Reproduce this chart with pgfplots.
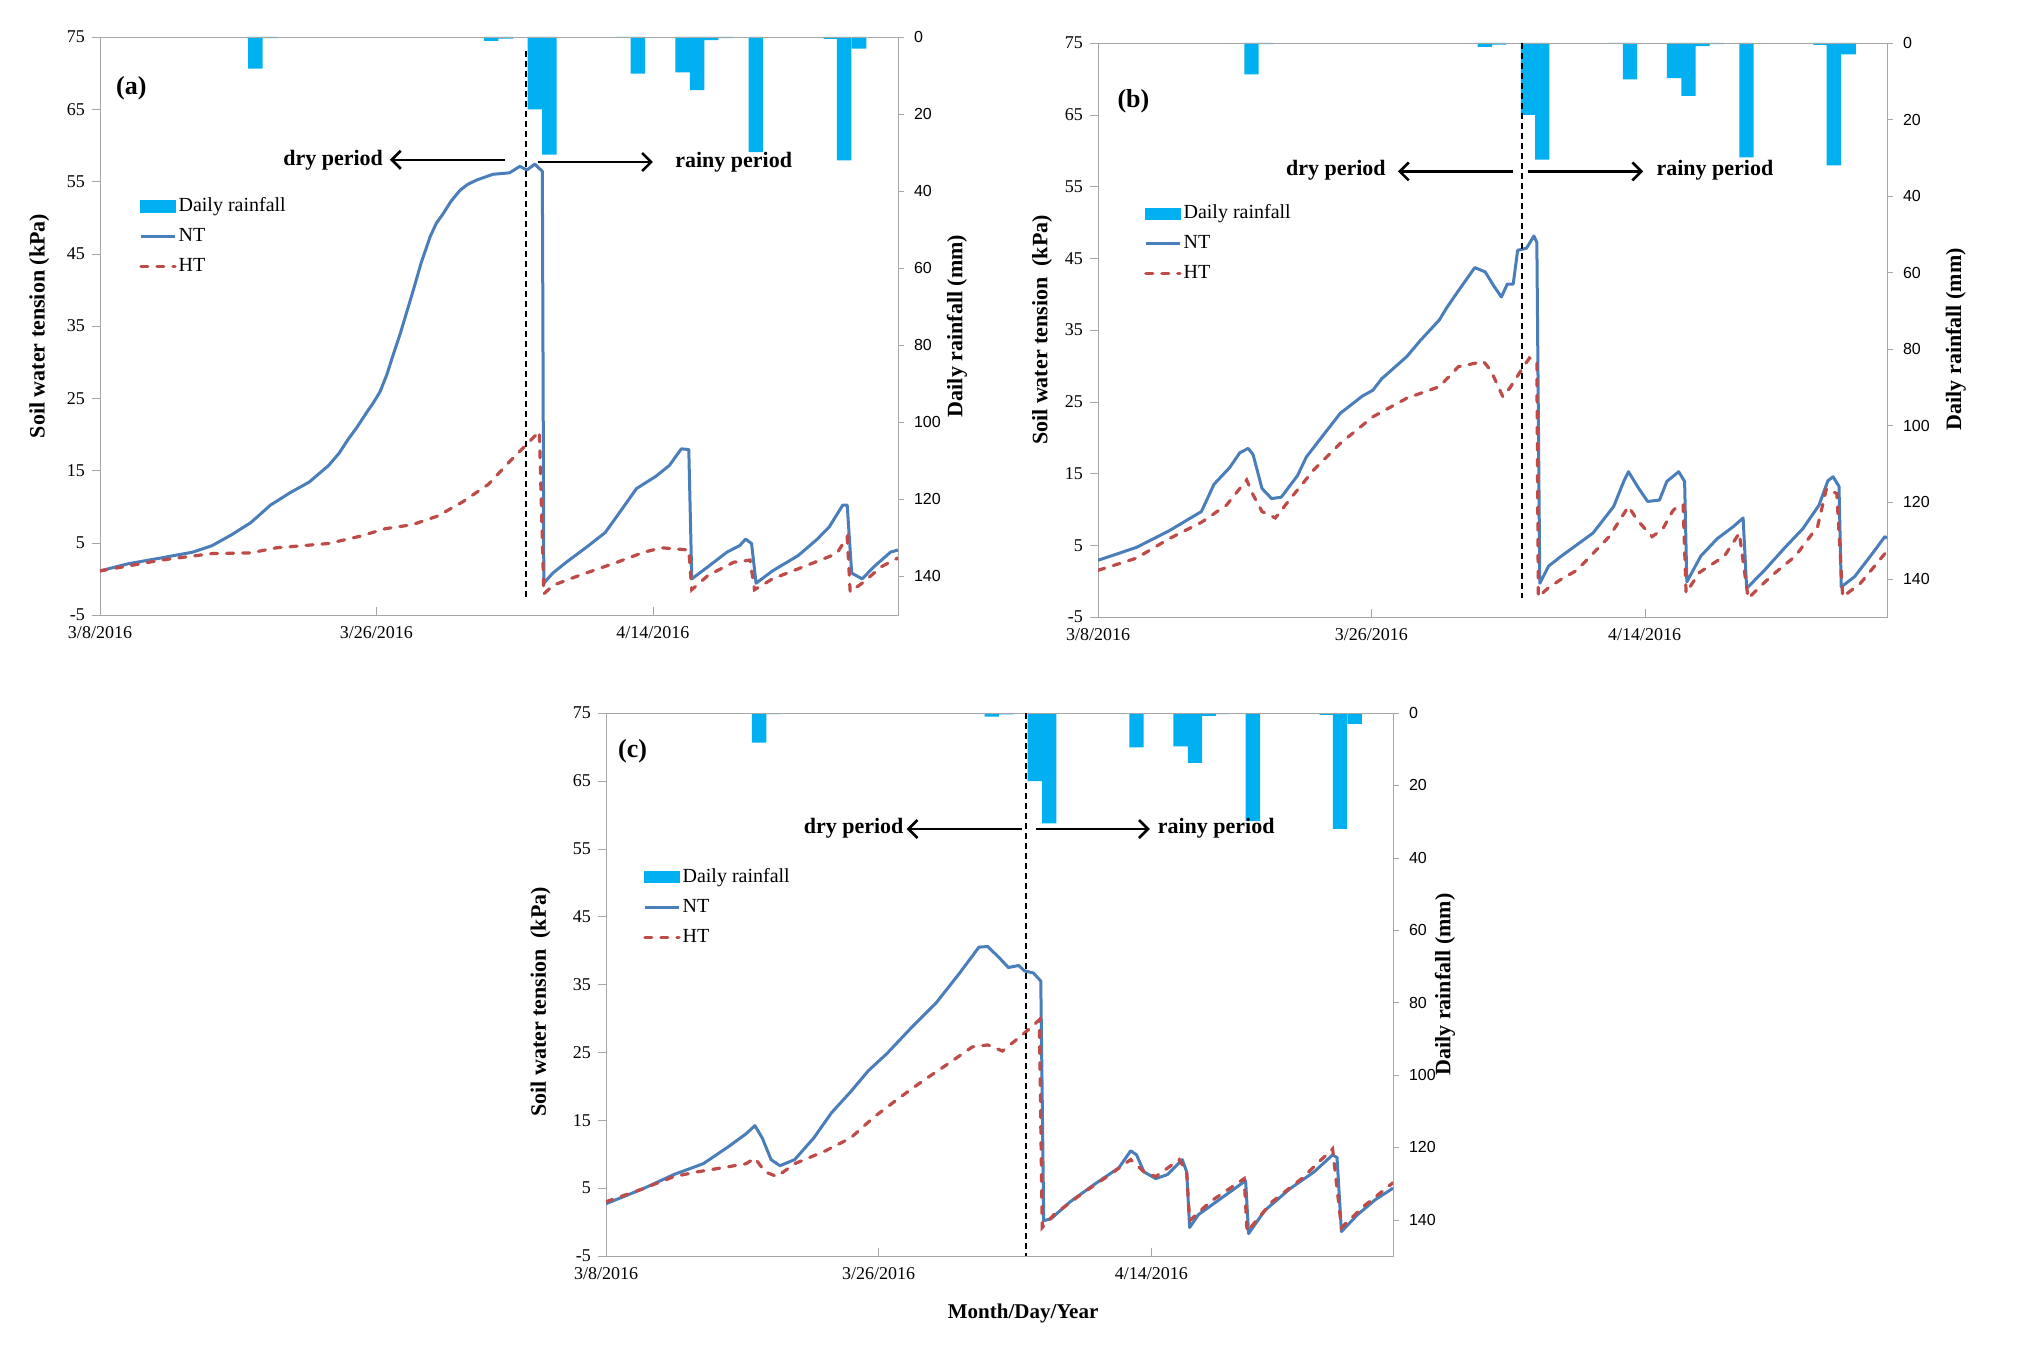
\documentclass[border=0pt]{standalone}
\usepackage{fontspec}
\setmainfont{Liberation Serif}
\newfontfamily\arialf{Liberation Sans}
\usepackage{pgfplots}
\usepackage{pgfplotstable}
\pgfplotsset{compat=1.18}
\usetikzlibrary{arrows.meta}
\definecolor{ntblue}{HTML}{4A7EBB}
\definecolor{htred}{HTML}{BE4B48}
\definecolor{rain}{HTML}{00B0F0}
\definecolor{axgray}{HTML}{A6A6A6}

\pgfplotstableread{
x r
10.39 8.2
11.38 0.3
26.18 1.0
27.16 0.4
29.10 18.8
30.07 30.5
35.05 0.2
36.00 9.5
38.99 9.2
39.96 13.8
40.90 0.8
41.87 0.3
43.89 29.9
48.90 0.5
49.80 32.0
50.80 3.0
}\raintable

\pgfplotstableread{
x y
0 1.1
1.9 2.1
4.1 2.9
6.2 3.7
7.5 4.6
8.8 6.1
10.1 7.8
11.4 10.2
12.7 11.9
14.0 13.4
15.3 15.7
16.0 17.4
16.6 19.3
17.2 21.0
17.8 22.9
18.3 24.4
18.74 25.9
19.2 28.3
19.6 30.9
20.1 34.0
20.97 40.0
21.5 43.8
22.1 47.4
22.5 49.2
22.98 50.6
23.5 52.3
24.1 53.8
24.6 54.6
25.2 55.2
26.3 56.0
27.4 56.2
28.1 57.1
28.56 56.6
29.1 57.4
29.6 56.4
29.7 -0.6
30.3 0.8
31.2 2.3
32.5 4.3
33.8 6.4
34.6 8.7
35.9 12.5
37.2 14.2
38.1 15.7
38.9 18.0
39.4 17.9
39.6 0.0
40.7 1.7
41.95 3.7
42.8 4.6
43.2 5.5
43.6 4.9
43.9 -0.6
45.0 1.1
46.7 3.2
48.0 5.5
48.8 7.2
49.7 10.2
50.0 10.2
50.3 0.8
51.0 0.0
51.8 1.7
52.9 3.7
53.4 4.0
}\ntA

\pgfplotstableread{
x y
0 1.1
4.1 2.6
7.5 3.5
10.1 3.6
11.8 4.3
13.6 4.6
15.3 4.9
17.4 5.9
19.1 6.95
20.9 7.5
22.6 8.7
24.3 10.7
26.0 13.1
27.3 16.0
28.4 18.3
29.4 20.4
29.7 -2.1
30.3 -0.9
32.1 0.5
34.6 2.3
36.4 3.7
37.6 4.3
39.4 4.0
39.6 -1.5
40.7 0.5
42.4 2.3
43.5 2.6
43.8 -1.5
45.0 0.0
47.1 1.7
49.3 3.5
50.0 5.8
50.2 -1.8
51.0 -0.6
52.3 1.7
53.4 2.9
}\htA

\pgfplotstableread{
x y
0 2.9
2.6 4.7
4.8 7.0
7.0 9.7
7.85 13.5
8.9 15.8
9.6 17.9
10.17 18.5
10.5 17.6
11.1 12.9
11.75 11.5
12.4 11.7
13.5 14.7
14.1 17.3
15.3 20.5
16.4 23.4
17.9 25.8
18.6 26.6
19.2 28.2
20.9 31.3
21.8 33.5
23.1 36.4
23.6 38.1
24.4 40.5
25.5 43.7
26.2 43.1
26.8 41.1
27.3 39.6
27.7 41.4
28.1 41.4
28.4 46.1
29.0 46.4
29.5 48.1
29.7 47.2
29.9 -0.3
30.5 2.1
31.3 3.4
33.5 6.7
34.9 10.4
35.6 14.0
35.9 15.25
36.6 12.9
37.2 11.1
38.0 11.3
38.5 13.9
39.3 15.25
39.7 13.9
39.85 -0.1
40.8 3.5
41.9 5.9
43.0 7.6
43.66 8.8
43.9 -1.0
45.1 1.5
46.5 4.7
47.7 7.3
48.8 10.6
49.4 14.0
49.75 14.55
50.15 13.2
50.3 -0.8
51.2 0.6
52.5 4.1
53.25 6.2
53.4 6.0
}\ntB

\pgfplotstableread{
x y
0 1.5
2.6 3.2
4.8 5.9
7.0 8.2
8.7 10.6
10.06 14.1
10.5 12.0
11.1 9.7
12.0 8.8
13.1 11.7
14.6 15.5
16.4 19.2
18.6 22.9
20.9 25.5
23.1 27.1
24.4 29.9
26.1 30.6
26.6 29.3
27.4 25.7
27.9 27.0
28.8 29.9
29.2 31.1
29.7 30.6
29.8 -2.2
30.5 -0.9
31.3 0.2
32.4 1.5
34.6 6.2
35.9 10.4
36.5 8.5
37.5 6.2
38.2 7.2
38.9 9.8
39.3 10.6
39.6 10.6
39.8 -1.65
40.7 1.2
42.4 3.5
43.4 6.7
44.0 -2.4
45.5 0.6
47.2 3.5
48.7 7.6
49.3 12.9
50.0 12.2
50.4 -2.2
51.6 -0.3
53.4 4.2
}\htB

\pgfplotstableread{
x y
0 2.7
2.5 4.9
4.6 7.0
6.6 8.6
8.3 11.1
9.5 13.0
10.1 14.2
10.6 12.4
11.2 9.2
11.8 8.3
12.8 9.2
14.1 12.4
15.3 16.1
16.6 19.2
17.8 22.3
19.05 24.8
20.7 28.6
22.4 32.3
24.0 36.7
25.3 40.5
25.9 40.6
26.7 38.9
27.3 37.5
28.0 37.8
28.4 37.0
29.0 36.7
29.5 35.5
29.7 0.2
30.2 0.5
31.5 3.0
33.1 5.5
34.8 8.0
35.6 10.5
36.0 9.9
36.5 7.4
37.3 6.4
38.1 7.0
39.1 9.2
39.4 7.4
39.6 -0.8
40.2 1.1
41.8 3.6
43.4 6.1
43.6 -1.7
44.7 1.7
46.4 4.9
48.05 7.4
49.3 9.9
49.6 9.5
49.9 -1.4
51.0 1.1
52.2 3.3
53.4 5.0
}\ntC

\pgfplotstableread{
x y
0 3.0
2.5 4.9
4.6 6.7
6.2 7.4
7.9 8.0
9.5 8.6
10.1 9.4
10.8 7.4
11.6 6.7
12.8 8.6
14.9 10.5
16.6 12.4
18.2 15.5
19.9 18.3
21.5 20.8
23.2 23.3
24.85 25.8
25.9 26.1
26.9 25.2
27.75 26.7
28.8 28.6
29.4 29.8
29.6 -0.8
30.4 1.1
32.3 4.2
34.0 6.7
35.6 9.2
36.5 7.4
37.3 6.7
38.9 9.2
39.4 7.4
39.6 0.2
41.0 3.0
43.3 6.4
43.5 -1.4
45.2 3.0
47.2 6.4
49.3 10.8
49.9 -0.8
51.4 2.3
53.4 5.8
}\htC

\pgfplotsset{
  rainaxis/.style={
    scale only axis, anchor=south west,
    xmin=0, xmax=53.4, ymin=0, ymax=150, y dir=reverse,
    enlargelimits=false, hide x axis, axis y line*=right,
    axis line style={draw=axgray},
    ytick={0,20,40,60,80,100,120,140},
    yticklabels={0,20,40,60,80,100,120,140},
    ytick style={draw=axgray}, ytick align=outside, major tick length=3pt,
    yticklabel style={font=\arialf\fontsize{8}{9}\selectfont, xshift=1.5pt},
    ylabel={Daily rainfall (mm)},
    ylabel style={font=\bfseries\fontsize{11}{12}\selectfont, anchor=center},
  },
  mainaxis/.style={
    scale only axis, anchor=south west,
    xmin=0, xmax=53.4, ymin=-5, ymax=75, enlargelimits=false,
    axis line style={draw=axgray}, tick style={draw=axgray},
    xtick={0,18.5,37}, xticklabels={3/8/2016,3/26/2016,4/14/2016},
    xtick pos=left, ytick pos=left,
    xtick align=inside, ytick align=outside, major tick length=4pt,
    ytick={-5,5,15,25,35,45,55,65,75},
    yticklabels={-5,5,15,25,35,45,55,65,75},
    ticklabel style={font=\fontsize{9}{10}\selectfont},
    xticklabel style={yshift=-2pt},
    ylabel style={font=\bfseries\fontsize{11}{12}\selectfont, anchor=center},
    legend cell align=left,
    legend style={draw=none, fill=none, inner sep=0pt, anchor=west,
      font=\fontsize{10}{11}\selectfont,
      nodes={text height=7pt, text depth=2pt, inner xsep=1pt, inner ysep=2pt},
      row sep=2pt},
  },
  rainbars/.style={ybar, bar width=0.97, fill=rain, draw=none},
  ntline/.style={ntblue, line width=1.5pt, line join=round},
  htline/.style={htred, line width=1.6pt, line cap=round, dash pattern=on 3.5pt off 4.5pt},
  vline/.style={black, line width=0.8pt, dash pattern=on 3pt off 2pt, forget plot},
}
\tikzset{
  annarrow/.style={line width=1.3pt, -{Straight Barb[length=4.5pt,width=9pt]}},
  anntext/.style={font=\bfseries\fontsize{11}{12}\selectfont},
  panlab/.style={font=\bfseries\fontsize{13}{14}\selectfont},
}

\begin{document}
\begin{tikzpicture}
\useasboundingbox (0,0) rectangle (1011pt,672.5pt);

% ---------------- panel (a) ----------------
\begin{axis}[rainaxis, at={(50pt,365pt)}, width=399pt, height=289pt,
  ylabel style={at={(axis description cs:1.074,0.5)}}]
\addplot[rainbars] table[x=x,y=r]{\raintable};
\end{axis}
\begin{axis}[mainaxis, at={(50pt,365pt)}, width=399pt, height=289pt,
  ylabel={Soil water tension (kPa)},
  ylabel style={at={(axis description cs:-0.076,0.5)}},
  legend style={at={(axis cs:2.6,47.4)}}]
\addlegendimage{area legend, fill=rain, draw=rain}
\addplot[ntline] table[x=x,y=y]{\ntA};
\addplot[htline] table[x=x,y=y]{\htA};
\legend{Daily rainfall, NT, HT}
\addplot[vline] coordinates {(28.5,73) (28.5,-2.7)};
\draw[annarrow] (axis cs:27.1,58) -- (axis cs:19.4,58);
\draw[annarrow] (axis cs:29.3,57.7) -- (axis cs:37.0,57.7);
\node[anntext] at (axis cs:15.6,58.0) {dry period};
\node[anntext] at (axis cs:42.4,57.6) {rainy period};
\node[panlab] at (axis cs:2.1,67.9) {(a)};
\end{axis}

% ---------------- panel (b) ----------------
\begin{axis}[rainaxis, at={(549pt,364pt)}, width=394.5pt, height=287pt,
  ylabel style={at={(axis description cs:1.087,0.484)}}]
\addplot[rainbars] table[x=x,y=r]{\raintable};
\end{axis}
\begin{axis}[mainaxis, at={(549pt,364pt)}, width=394.5pt, height=287pt,
  ylabel={Soil water tension\ \ (kPa)},
  ylabel style={at={(axis description cs:-0.071,0.5)}},
  legend style={at={(axis cs:3.1,47.0)}}]
\addlegendimage{area legend, fill=rain, draw=rain}
\addplot[ntline] table[x=x,y=y]{\ntB};
\addplot[htline] table[x=x,y=y]{\htB};
\legend{Daily rainfall, NT, HT}
\addplot[vline] coordinates {(28.7,75) (28.7,-2.3)};
\draw[annarrow] (axis cs:28.1,57.1) -- (axis cs:20.3,57.1);
\draw[annarrow] (axis cs:29.1,57.1) -- (axis cs:36.9,57.1);
\node[anntext] at (axis cs:16.1,57.2) {dry period};
\node[anntext] at (axis cs:41.75,57.2) {rainy period};
\node[panlab] at (axis cs:2.4,66.9) {(b)};
\end{axis}

% ---------------- panel (c) ----------------
\begin{axis}[rainaxis, at={(303pt,44.5pt)}, width=393.5pt, height=271.5pt,
  ylabel style={at={(axis description cs:1.066,0.5)}}]
\addplot[rainbars] table[x=x,y=r]{\raintable};
\end{axis}
\begin{axis}[mainaxis, at={(303pt,44.5pt)}, width=393.5pt, height=271.5pt,
  ylabel={Soil water tension\ \ (kPa)},
  ylabel style={at={(axis description cs:-0.083,0.468)}},
  xlabel={Month/Day/Year},
  xlabel style={font=\bfseries\fontsize{10.5}{12}\selectfont, at={(axis description cs:0.53,-0.105)}, anchor=center},
  legend style={at={(axis cs:2.5,46.4)}}]
\addlegendimage{area legend, fill=rain, draw=rain}
\addplot[ntline] table[x=x,y=y]{\ntC};
\addplot[htline] table[x=x,y=y]{\htC};
\legend{Daily rainfall, NT, HT}
\addplot[vline] coordinates {(28.5,75) (28.5,-5)};
\draw[annarrow] (axis cs:28.2,57.9) -- (axis cs:20.4,57.9);
\draw[annarrow] (axis cs:29.2,57.9) -- (axis cs:36.9,57.9);
\node[anntext] at (axis cs:16.8,58.0) {dry period};
\node[anntext] at (axis cs:41.4,58.0) {rainy period};
\node[panlab] at (axis cs:1.8,69.3) {(c)};
\end{axis}
\end{tikzpicture}
\end{document}
